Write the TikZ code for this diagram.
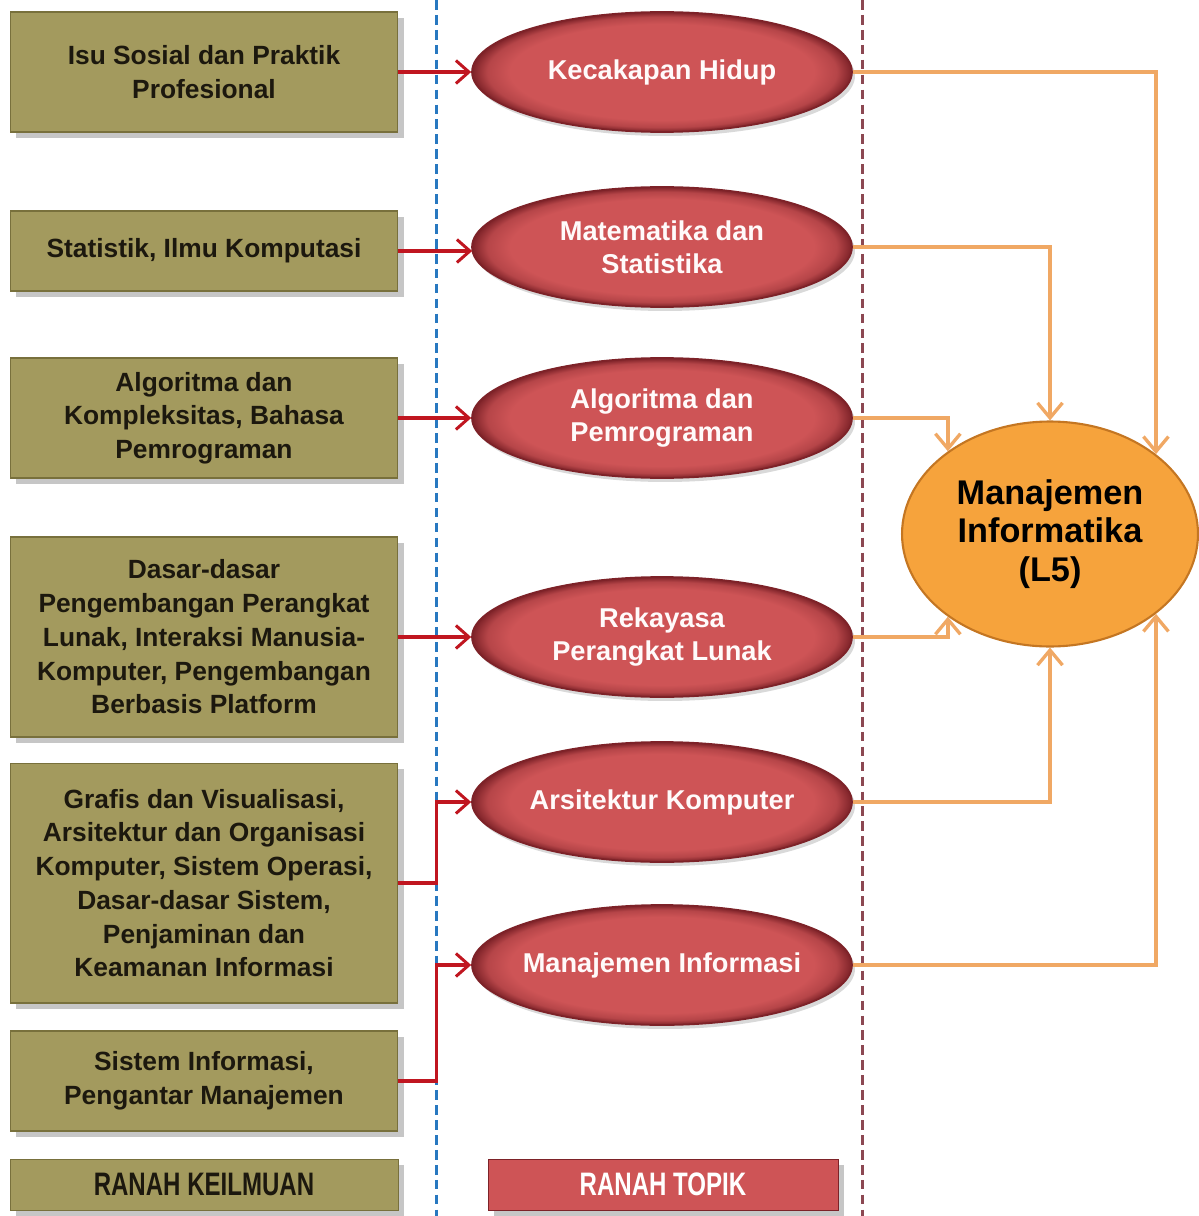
\documentclass[tikz,border=0pt]{standalone}
\usepackage{fontspec}
\setmainfont{Liberation Sans}
\usetikzlibrary{shapes.geometric,arrows.meta,shadows,calc}

\definecolor{olive}{RGB}{163,154,94}
\definecolor{oliveedge}{RGB}{120,112,60}
\definecolor{boxtext}{RGB}{28,24,14}
\definecolor{topicfill}{RGB}{206,84,86}
\definecolor{topicedge}{RGB}{125,34,40}
\definecolor{mainfill}{RGB}{246,163,60}
\definecolor{mainedge}{RGB}{196,118,34}
\definecolor{feedred}{RGB}{192,22,32}
\definecolor{feedorange}{RGB}{240,168,100}
\definecolor{sepblue}{RGB}{40,120,192}
\definecolor{sepbrown}{RGB}{140,72,82}

% darker rim towards the border of the topic ellipses
% (the path's bounding box maps onto the middle 50bp square)
\pgfdeclareradialshading{topicrim}{\pgfpoint{0bp}{0bp}}{%
  color(0bp)=(topicfill); color(20bp)=(topicfill);
  color(23bp)=(topicfill!70!topicedge); color(25bp)=(topicedge);
  color(50bp)=(topicedge)}

\tikzset{
  fieldbox/.style={rectangle, fill=olive, draw=oliveedge, line width=0.6pt,
    minimum width=7.76cm, inner sep=0pt, align=center, text=boxtext,
    font=\bfseries\fontsize{15}{19.2}\selectfont,
    drop shadow={opacity=0.45, shadow xshift=1.2mm, shadow yshift=-1.2mm}},
  topic/.style={ellipse, shading=topicrim, draw=topicedge, line width=1pt,
    minimum width=7.6cm, minimum height=2.4cm, inner sep=0pt, align=center,
    text=white!92!pink, font=\bfseries\fontsize{15.5}{18.7}\selectfont,
    drop shadow={opacity=0.3, shadow xshift=0.6mm, shadow yshift=-0.8mm}},
  programme/.style={ellipse, fill=mainfill, draw=mainedge, line width=1.2pt,
    minimum width=5.92cm, minimum height=4.5cm, inner sep=0pt, align=center,
    text=black, font=\bfseries\fontsize{19.5}{21.8}\selectfont},
  legendbox/.style={rectangle, minimum height=1.02cm, inner sep=0pt,
    font=\bfseries\fontsize{18.5}{22}\selectfont,
    drop shadow={opacity=0.45, shadow xshift=1.2mm, shadow yshift=-1.2mm}},
  feed/.style={draw=feedred, line width=2.2pt,
    -{Straight Barb[length=2.6mm,width=4.6mm,line width=1.7pt]}},
  yield/.style={draw=feedorange, line width=2.4pt,
    -{Straight Barb[length=3mm,width=5mm,line width=1.9pt]}},
  divider/.style={line width=1.7pt, dash pattern=on 5.5pt off 3pt},
}

\begin{document}
\begin{tikzpicture}[x=0.02cm,y=-0.02cm]
\useasboundingbox (0,0) rectangle (1199,1216);

% column separators
\draw[divider, sepblue] (436,0) -- (436,1216);
\draw[divider, sepbrown] (862,0) -- (862,1216);

% knowledge areas (left column)
\node[fieldbox, minimum height=2.4cm] (b1) at (204,72)
  {Isu Sosial dan Praktik\\Profesional};
\node[fieldbox, minimum height=1.6cm] (b2) at (204,251)
  {Statistik, Ilmu Komputasi};
\node[fieldbox, minimum height=2.4cm] (b3) at (204,418)
  {Algoritma dan\\Kompleksitas, Bahasa\\Pemrograman};
\node[fieldbox, minimum height=4.0cm] (b4) at (204,637)
  {Dasar-dasar\\Pengembangan Perangkat\\Lunak, Interaksi Manusia-\\Komputer, Pengembangan\\Berbasis Platform};
\node[fieldbox, minimum height=4.8cm] (b5) at (204,883)
  {Grafis dan Visualisasi,\\Arsitektur dan Organisasi\\Komputer, Sistem Operasi,\\Dasar-dasar Sistem,\\Penjaminan dan\\Keamanan Informasi};
\node[fieldbox, minimum height=2.0cm] (b6) at (204,1081)
  {Sistem Informasi,\\Pengantar Manajemen};

% topic areas (middle column)
\node[topic] (t1) at (662,72) {\makebox[0pt]{Kecakapan Hidup}};
\node[topic] (t2) at (662,247) {Matematika dan\\Statistika};
\node[topic] (t3) at (662,418) {Algoritma dan\\Pemrograman};
\node[topic] (t4) at (662,637) {Rekayasa\\Perangkat Lunak};
\node[topic] (t5) at (662,802) {\makebox[0pt]{Arsitektur Komputer}};
\node[topic] (t6) at (662,965) {\makebox[0pt]{Manajemen Informasi}};

% study programme
\node[programme] (mi) at (1050,534) {Manajemen\\Informatika\\(L5)};

% legend
\node[legendbox, fill=olive, draw=oliveedge, minimum width=7.76cm, text=boxtext] (lk) at (204,1184.5)
  {\scalebox{0.74}[1]{RANAH KEILMUAN}};
\node[legendbox, fill=topicfill, draw=topicedge, minimum width=7cm, text=white] (lt) at (663,1184.5)
  {\scalebox{0.74}[1]{RANAH TOPIK}};

% knowledge area -> topic
\draw[feed] (b1.east) -- (b1.east -| t1.west);
\draw[feed] (b2.east) -- ($(b2.east -| t2.west)+(1,0)$);
\draw[feed] (b3.east) -- (b3.east -| t3.west);
\draw[feed] (b4.east) -- (b4.east -| t4.west);
\draw[feed] (b5.east) -- ++(38,0) |- (t5.west);
\draw[feed] (b6.east) -- ++(38,0) |- (t6.west);

% topic -> programme
\draw[yield] (t1.east) -| (mi.37);
\draw[yield] (t2.east) -| (mi.north);
\draw[yield] (t3.east) -| (mi.141);
\draw[yield] (t4.east) -| (mi.219);
\draw[yield] (t5.east) -| (mi.south);
\draw[yield] (t6.east) -| (mi.-37);
\end{tikzpicture}
\end{document}
